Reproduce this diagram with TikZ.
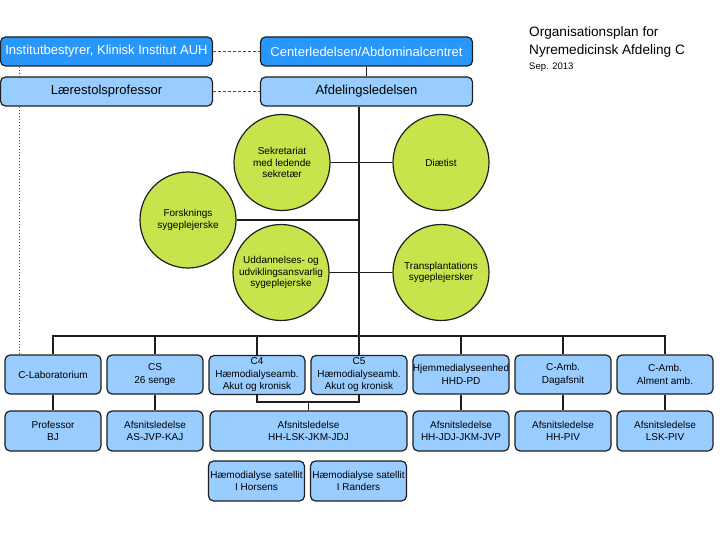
\documentclass[tikz,border=0pt]{standalone}
\usepackage{fontspec}
\setmainfont{Liberation Sans}
\definecolor{lblue}{RGB}{153,204,255}
\definecolor{dblue}{RGB}{41,150,250}
\definecolor{cgreen}{RGB}{200,228,76}
\definecolor{edgec}{RGB}{30,30,30}
\begin{document}
\begin{tikzpicture}[x=1pt,y=-1pt,
 box/.style={draw=edgec, line width=1.2pt, rounded corners=5pt, fill=lblue, inner sep=0pt, align=center, font=\fontsize{10}{12.5}\selectfont, text=black},
 topbox/.style={box, fill=dblue, text=white, font=\fontsize{13}{15}\selectfont, minimum width=212pt, minimum height=29pt},
 midbox/.style={box, font=\fontsize{13}{15}\selectfont, minimum width=212pt, minimum height=29pt},
 unit/.style={box, minimum width=96pt, minimum height=39pt},
 subunit/.style={box, minimum width=96pt, minimum height=40pt},
 role/.style={circle, draw=edgec, line width=1.2pt, fill=cgreen, minimum size=96pt, inner sep=0pt, align=center, font=\fontsize{10}{11.5}\selectfont},
 link/.style={draw=edgec, line width=1.2pt},
 dashlink/.style={draw=edgec!80, line width=0.6pt, dash pattern=on 3pt off 2pt},
 dotlink/.style={draw=edgec!80, line width=0.6pt, dash pattern=on 1.5pt off 1.5pt},
 titletext/.style={anchor=base west, inner sep=0pt, font=\fontsize{13.6}{17}\selectfont}]
\useasboundingbox (0,0) rectangle (720,540);

% title
\node[titletext] (t1) at (529,37) {Organisationsplan for};
\node[titletext] (t2) at (529,55) {Nyremedicinsk Afdeling C};
\node[titletext, font=\fontsize{9.5}{11}\selectfont] (date) at (529,70) {Sep. 2013};

% top boxes
\node[topbox] (inst) at (106.5,51.5) {Institutbestyrer, Klinisk Institut AUH};
\node[topbox] (cent) at (366.5,51.5) {Centerledelsen/Abdominalcentret};
\node[midbox] (prof) at (106.5,91.5) {Lærestolsprofessor};
\node[midbox] (afd) at (366.5,91.5) {Afdelingsledelsen};

% circles
\node[role] (sek) at (282,162.5) {Sekretariat\\med ledende\\sekretær};
\node[role] (diaet) at (441,162.5) {Diætist};
\node[role] (forsk) at (188,220) {Forsknings\\sygeplejerske};
\node[role] (udd) at (281,272.5) {Uddannelses- og\\udviklingsansvarlig\\sygeplejerske};
\node[role] (trans) at (441,272.5) {Transplantations\\sygeplejersker};

% row 1
\node[unit] (clab) at (53,374.5) {C-Laboratorium};
\node[unit] (cs) at (155,374.5) {CS\\26 senge};
\node[unit] (c4) at (257,375) {C4\\Hæmodialyseamb.\\Akut og kronisk};
\node[unit] (c5) at (359,375) {C5\\Hæmodialyseamb.\\Akut og kronisk};
\node[unit] (hjem) at (461,374.5) {Hjemmedialyseenhed\\HHD-PD};
\node[unit] (amb1) at (563,374.5) {C-Amb.\\Dagafsnit};
\node[unit] (amb2) at (665,374.5) {C-Amb.\\Alment amb.};

% row 2
\node[subunit] (profbj) at (53,431) {Professor\\BJ};
\node[subunit] (afs2) at (155,431) {Afsnitsledelse\\AS-JVP-KAJ};
\node[subunit, minimum width=197pt] (afs3) at (308.5,431) {Afsnitsledelse\\HH-LSK-JKM-JDJ};
\node[subunit] (afs4) at (461,431) {Afsnitsledelse\\HH-JDJ-JKM-JVP};
\node[subunit] (afs5) at (563,431) {Afsnitsledelse\\HH-PIV};
\node[subunit] (afs6) at (665,431) {Afsnitsledelse\\LSK-PIV};

% satellites
\node[subunit] (sat1) at (256.5,481) {Hæmodialyse satellit\\I Horsens};
\node[subunit] (sat2) at (358.5,481) {Hæmodialyse satellit\\I Randers};

% helper coordinates
\coordinate (dl) at (19,0);
\coordinate (bus) at (0,336);
\coordinate (jn) at (0,402);

% dashed / dotted
\draw[dashlink] (inst.east) -- (cent.west);
\draw[dashlink] (prof.east) -- (afd.west);
\draw[dotlink] (inst.south -| dl) -- (prof.north -| dl);
\draw[dotlink] (prof.south -| dl) -- (clab.north -| dl);

% solid connectors
\draw[link] (cent.south) -- (afd.north);
\draw[link] (afd.south -| c5.north) -- (c5.north);
\draw[link] (sek.east) -- (diaet.west);
\draw[link] (forsk.east) -- (forsk.east -| c5.north);
\draw[link] (udd.east) -- (trans.west);
\draw[link] (clab.north) -- (clab.north |- bus) -- (amb2.north |- bus) -- (amb2.north);
\foreach \n in {cs,c4,hjem,amb1} \draw[link] (\n.north) -- (\n.north |- bus);

\draw[link] (clab.south) -- (profbj.north);
\draw[link] (cs.south) -- (afs2.north);
\draw[link] (c4.south) -- (c4.south |- jn) -- (c5.south |- jn) -- (c5.south);
\draw[link] (afs3.north) -- (afs3.north |- jn);
\draw[link] (hjem.south) -- (afs4.north);
\draw[link] (amb1.south) -- (afs5.north);
\draw[link] (amb2.south) -- (afs6.north);
\end{tikzpicture}
\end{document}
